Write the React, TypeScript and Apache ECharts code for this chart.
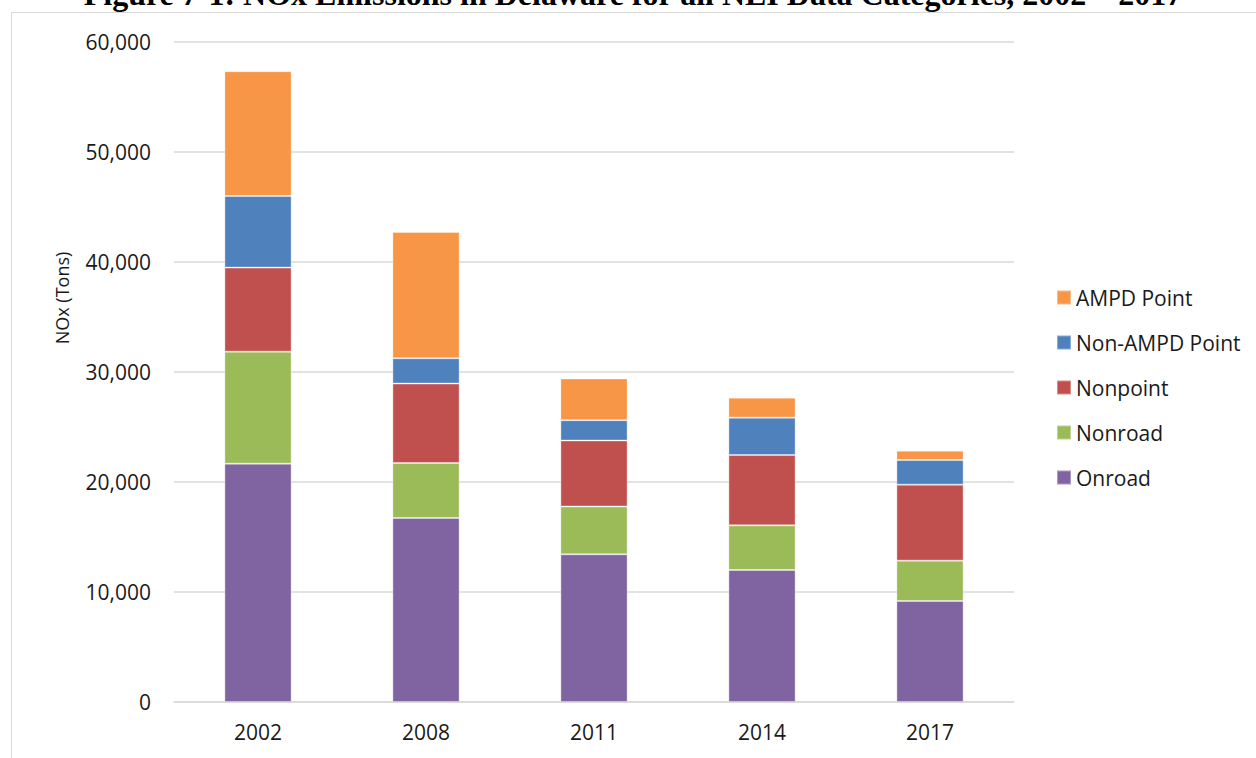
import React, { useEffect, useRef } from "react";
import * as echarts from "echarts";

const categories = ["2002", "2008", "2011", "2014", "2017"];
const onroad = [21670, 16730, 13430, 12000, 9180];
const nonroad = [10180, 5000, 4340, 4060, 3670];
const nonpoint = [7640, 7220, 6000, 6390, 6910];
const nonAmpdPoint = [6510, 2300, 1850, 3400, 2240];
const ampdPoint = [11340, 11480, 3790, 1820, 850];

const seriesNames = ["Onroad", "Nonroad", "Nonpoint", "Non-AMPD Point", "AMPD Point"];
const seriesColors = ["#8064A2", "#9BBB59", "#C0504D", "#4F81BD", "#F79646"];
const seriesData = [onroad, nonroad, nonpoint, nonAmpdPoint, ampdPoint];
const legendOrder = ["AMPD Point", "Non-AMPD Point", "Nonpoint", "Nonroad", "Onroad"];

const titleText = "Figure 7-1: NOx Emissions in Delaware for all NEI Data Categories, 2002 \u2013 2017";
const yAxisTitle = "NOx (Tons)";

const FONT = "'Open Sans', 'Noto Sans', sans-serif";

export default function App() {
  const ref = useRef<HTMLDivElement>(null);
  useEffect(() => {
    if (!ref.current) return;
    const chart = echarts.init(ref.current, null, { renderer: "svg" });
    chart.setOption({
      animation: false,
      backgroundColor: "#ffffff",
      grid: { left: 174, right: 242, top: 42, bottom: 56, containLabel: false },
      legend: {
        orient: "vertical",
        left: 1051,
        top: 282,
        itemWidth: 14,
        itemHeight: 14,
        itemGap: 24,
        icon: "rect",
        data: legendOrder,
        textStyle: { fontFamily: FONT, fontSize: 21, color: "#1a1a1a" },
      },
      xAxis: {
        type: "category",
        data: categories,
        axisLine: { show: true, lineStyle: { color: "#D9D9D9", width: 1.5 } },
        axisTick: { show: false },
        axisLabel: { fontFamily: FONT, fontSize: 21, color: "#1a1a1a", margin: 19 },
      },
      yAxis: {
        type: "value",
        min: 0,
        max: 60000,
        interval: 10000,
        axisLine: { show: false },
        axisTick: { show: false },
        splitLine: { lineStyle: { color: "#D9D9D9", width: 1.5 } },
        axisLabel: {
          fontFamily: FONT,
          fontSize: 21,
          color: "#1a1a1a",
          margin: 23,
          formatter: (v: number) => v.toLocaleString("en-US"),
        },
      },
      graphic: [
        {
          type: "rect",
          silent: true,
          shape: { x: 11.5, y: 12.5, width: 2000, height: 2000 },
          style: { fill: "none", stroke: "#D9D9D9", lineWidth: 1 },
        },
        {
          type: "text",
          x: 633,
          y: 10,
          style: {
            text: titleText,
            fontFamily: "'Liberation Serif', 'Times New Roman', serif",
            fontWeight: "bold",
            fontSize: 32,
            fill: "#000000",
            textAlign: "center",
            textVerticalAlign: "bottom",
          },
        },
        {
          type: "text",
          x: 62,
          y: 298,
          rotation: Math.PI / 2,
          style: {
            text: yAxisTitle,
            fontFamily: FONT,
            fontSize: 18,
            fill: "#1a1a1a",
            textAlign: "center",
            textVerticalAlign: "middle",
          },
        },
      ],
      series: seriesNames.map((name, i) => ({
        name,
        type: "bar",
        stack: "total",
        data: seriesData[i],
        barCategoryGap: "60%",
        itemStyle: {
          color: seriesColors[i],
          borderColor: "rgba(255,255,255,0.35)",
          borderWidth: 1,
        },
      })),
    });
    return () => chart.dispose();
  }, []);
  return (
    <div
      ref={ref}
      style={{ position: "fixed", left: 0, top: 0, width: 1256, height: 758 }}
    />
  );
}
